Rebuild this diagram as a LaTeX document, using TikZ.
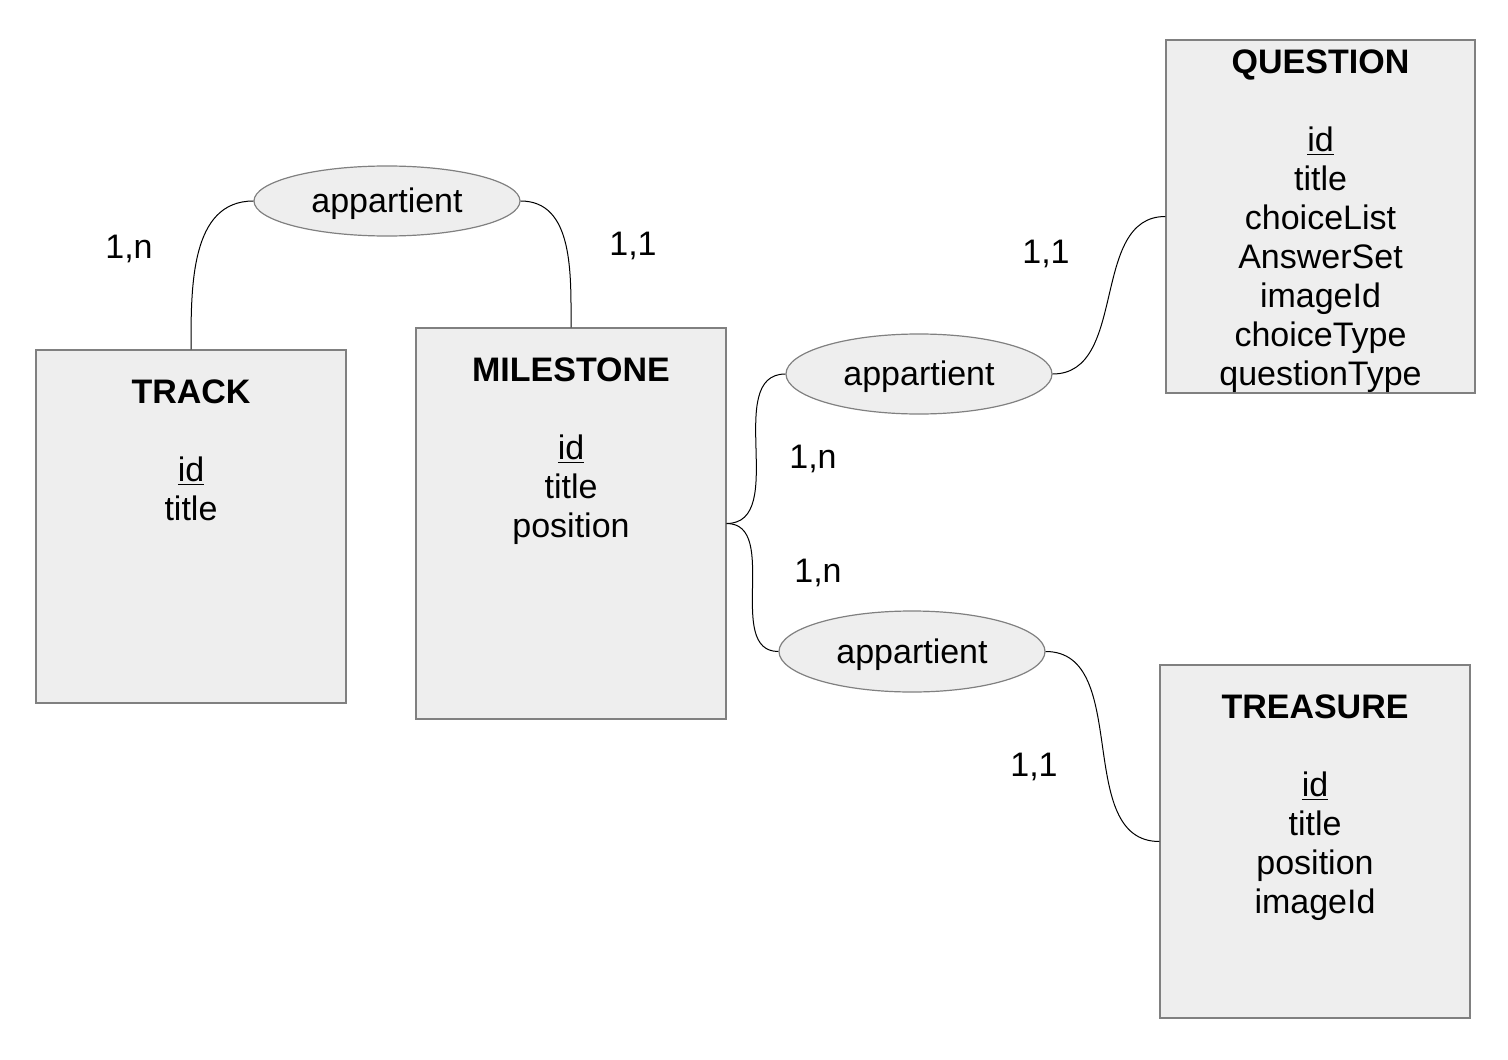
\documentclass[tikz,border=0pt]{standalone}
\usepackage{fontspec}
\setmainfont{Liberation Sans}
\usetikzlibrary{shapes.geometric}
\definecolor{boxfill}{HTML}{EEEEEE}
\definecolor{boxline}{HTML}{808080}
\begin{document}
\begin{tikzpicture}[x=0.5pt,y=-0.5pt,
  every node/.style={font=\fontsize{17}{19.5}\selectfont},
  entity/.style={draw=boxline,fill=boxfill,line width=0.6pt,rectangle,inner sep=0pt,minimum width=155pt},
  entitytext/.style={align=center,anchor=base,inner sep=0pt},
  relation/.style={draw=boxline,fill=boxfill,line width=0.6pt,ellipse,inner sep=0pt,minimum width=133pt,text height=13pt,text depth=1.4pt},
  card/.style={inner sep=0pt},
  link/.style={draw=black,line width=0.5pt}]
\useasboundingbox (0,0) rectangle (1508,1059);
% entities
\node[entity,minimum height=176.5pt] (track) at (191,526.5) {};
\node[entity,minimum height=195.5pt] (milestone) at (571,523.5) {};
\node[entity,minimum height=176.5pt,minimum width=154.5pt] (question) at (1320.5,216.5) {};
\node[entity,minimum height=176.5pt] (treasure) at (1315,841.5) {};
% base anchor = baseline of last line
\node[entitytext] (tracktext) at (191,520) {\textbf{TRACK}\\[19.5pt]\underline{id}\\title};
\node[entitytext] (milestonetext) at (571,537) {\textbf{MILESTONE}\\[19.5pt]\underline{id}\\title\\position};
\node[entitytext] (questiontext) at (1320.5,385) {\textbf{QUESTION}\\[19.5pt]\underline{id}\\title\\choiceList\\AnswerSet\\imageId\\choiceType\\questionType};
\node[entitytext] (treasuretext) at (1315,913) {\textbf{TREASURE}\\[19.5pt]\underline{id}\\title\\position\\imageId};
% relations
\node[relation,minimum height=35pt] (r1) at (387,201) {appartient};
\node[relation,minimum height=40pt] (r2) at (919,374) {appartient};
\node[relation,minimum height=40.5pt] (r3) at (912,651.5) {appartient};
% connectors
\draw[link] (track.north) to[out=90,in=180] (r1.west);
\draw[link] (r1.east) to[out=0,in=90] (milestone.north);
\draw[link] (milestone.east) to[out=0,in=180] (r2.west);
\draw[link] (milestone.east) to[out=0,in=180] (r3.west);
\draw[link] (r2.east) to[out=0,in=180] (question.west);
\draw[link] (r3.east) to[out=0,in=180] (treasure.west);
% cardinalities
\node[card] (c1) at (129,249) {1,n};
\node[card] (c2) at (633,246) {1,1};
\node[card] (c3) at (1046,254) {1,1};
\node[card] (c4) at (813,459) {1,n};
\node[card] (c5) at (818,573) {1,n};
\node[card] (c6) at (1034,767) {1,1};
\end{tikzpicture}
\end{document}
